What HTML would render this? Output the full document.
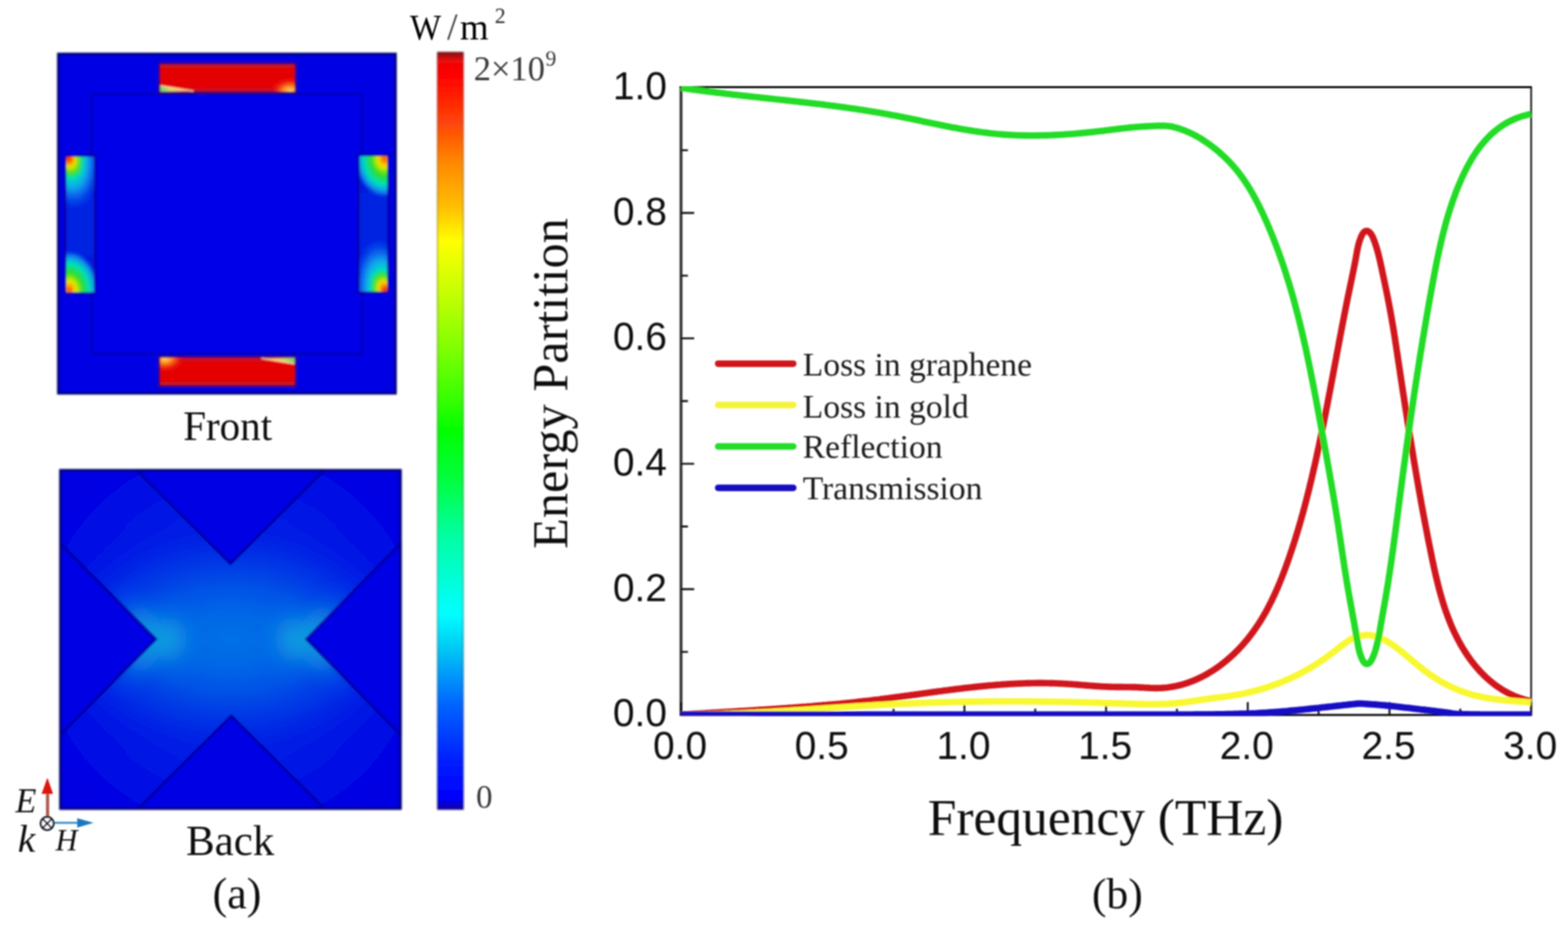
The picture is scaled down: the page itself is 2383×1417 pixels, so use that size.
<!DOCTYPE html>
<html lang="en"><head><meta charset="utf-8"><title>Energy partition figure</title>
<style>html,body{margin:0;padding:0;background:#fff;}body{width:2383px;height:1417px;overflow:hidden;}svg{display:block;}text{font-family:"Liberation Serif",serif;fill:#111;}.sans{font-family:"Liberation Sans",sans-serif;fill:#0a0a0a;}.thin{fill:#2e2e2e;}</style>
</head><body>
<svg width="2383" height="1417" viewBox="0 0 2383 1417">
<defs>
<filter id="soft" x="-5%" y="-5%" width="110%" height="110%"><feGaussianBlur stdDeviation="1.1"/></filter>
<filter id="soft2" x="-5%" y="-5%" width="110%" height="110%"><feGaussianBlur stdDeviation="2.2"/></filter>
<filter id="soft30" x="-30%" y="-30%" width="160%" height="160%"><feGaussianBlur stdDeviation="28"/></filter>
<filter id="soft9" x="-30%" y="-30%" width="160%" height="160%"><feGaussianBlur stdDeviation="13"/></filter>
<filter id="soft6" x="-20%" y="-20%" width="140%" height="140%"><feGaussianBlur stdDeviation="9"/></filter>
<linearGradient id="jet" x1="0" y1="0" x2="0" y2="1"><stop offset="0" stop-color="#8c0a14"/><stop offset="0.004" stop-color="#a50c14"/><stop offset="0.012" stop-color="#f00808"/><stop offset="0.03" stop-color="#ff0000"/><stop offset="0.094" stop-color="#ff4608"/><stop offset="0.149" stop-color="#ff8c00"/><stop offset="0.204" stop-color="#ffbe00"/><stop offset="0.25" stop-color="#ffff00"/><stop offset="0.315" stop-color="#c8ff00"/><stop offset="0.389" stop-color="#82ff00"/><stop offset="0.462" stop-color="#32ff00"/><stop offset="0.5" stop-color="#00ff00"/><stop offset="0.562" stop-color="#00ff3c"/><stop offset="0.637" stop-color="#00ffa0"/><stop offset="0.712" stop-color="#00ffe6"/><stop offset="0.742" stop-color="#00ffff"/><stop offset="0.787" stop-color="#00c8f5"/><stop offset="0.862" stop-color="#0064ff"/><stop offset="0.936" stop-color="#001eff"/><stop offset="0.985" stop-color="#0000ff"/><stop offset="0.995" stop-color="#0a00c0"/><stop offset="1" stop-color="#1400a0"/></linearGradient>
<radialGradient id="hotAo" gradientUnits="userSpaceOnUse" cx="0" cy="0" r="1" gradientTransform="translate(102 232) rotate(-12) scale(50 92)"><stop offset="0" stop-color="#00e0c0"/><stop offset="0.45" stop-color="#00d8d0"/><stop offset="0.62" stop-color="#10a8f0" stop-opacity="0.9"/><stop offset="0.82" stop-color="#0860f0" stop-opacity="0.55"/><stop offset="1" stop-color="#0428e8" stop-opacity="0"/></radialGradient>
<radialGradient id="hotAi" gradientUnits="userSpaceOnUse" cx="0" cy="0" r="1" gradientTransform="translate(103 238) rotate(-20) scale(24 38)"><stop offset="0" stop-color="#d81000"/><stop offset="0.22" stop-color="#ff5800"/><stop offset="0.42" stop-color="#f4e400"/><stop offset="0.68" stop-color="#40e020"/><stop offset="0.88" stop-color="#10e090" stop-opacity="0.7"/><stop offset="1" stop-color="#00e0c0" stop-opacity="0"/></radialGradient>
<radialGradient id="hotB" gradientUnits="userSpaceOnUse" cx="0" cy="0" r="1" gradientTransform="translate(105 441) scale(46 60)"><stop offset="0" stop-color="#f03800"/><stop offset="0.1" stop-color="#ff9000"/><stop offset="0.22" stop-color="#f0e800"/><stop offset="0.42" stop-color="#30e020"/><stop offset="0.7" stop-color="#00dcc8"/><stop offset="0.86" stop-color="#10a0f0" stop-opacity="0.8"/><stop offset="1" stop-color="#0850f0" stop-opacity="0"/></radialGradient>
<radialGradient id="xglow" gradientUnits="userSpaceOnUse" cx="0" cy="0" r="1" gradientTransform="translate(351 972) scale(330 200)"><stop offset="0" stop-color="#0070e6"/><stop offset="0.2" stop-color="#0068e6"/><stop offset="0.42" stop-color="#0050e6"/><stop offset="0.62" stop-color="#0034e6" stop-opacity="0.85"/><stop offset="0.8" stop-color="#001ce4" stop-opacity="0.5"/><stop offset="1" stop-color="#0008e2" stop-opacity="0"/></radialGradient>
<radialGradient id="cy1" gradientUnits="userSpaceOnUse" cx="0" cy="0" r="1" gradientTransform="translate(258 972) scale(60 80)"><stop offset="0" stop-color="#14a0e0" stop-opacity="0.8"/><stop offset="0.2" stop-color="#129ce0" stop-opacity="0.68"/><stop offset="0.4" stop-color="#1090e2" stop-opacity="0.42"/><stop offset="0.6" stop-color="#0e84e4" stop-opacity="0.2"/><stop offset="0.8" stop-color="#0c78e6" stop-opacity="0.06"/><stop offset="1" stop-color="#0a70e6" stop-opacity="0"/></radialGradient>
<radialGradient id="cy2" gradientUnits="userSpaceOnUse" cx="0" cy="0" r="1" gradientTransform="translate(444 972) scale(60 80)"><stop offset="0" stop-color="#14a0e0" stop-opacity="0.8"/><stop offset="0.2" stop-color="#129ce0" stop-opacity="0.68"/><stop offset="0.4" stop-color="#1090e2" stop-opacity="0.42"/><stop offset="0.6" stop-color="#0e84e4" stop-opacity="0.2"/><stop offset="0.8" stop-color="#0c78e6" stop-opacity="0.06"/><stop offset="1" stop-color="#0a70e6" stop-opacity="0"/></radialGradient>
<radialGradient id="chevL" gradientUnits="userSpaceOnUse" cx="236.9" cy="971.7" r="100"><stop offset="0" stop-color="#14a2e0" stop-opacity="0.95"/><stop offset="0.3" stop-color="#129ce0" stop-opacity="0.85"/><stop offset="0.55" stop-color="#0e88e2" stop-opacity="0.5"/><stop offset="0.8" stop-color="#0a70e6" stop-opacity="0.15"/><stop offset="1" stop-color="#0860e6" stop-opacity="0"/></radialGradient>
<radialGradient id="chevR" gradientUnits="userSpaceOnUse" cx="465.8" cy="971.7" r="100"><stop offset="0" stop-color="#14a2e0" stop-opacity="0.95"/><stop offset="0.3" stop-color="#129ce0" stop-opacity="0.85"/><stop offset="0.55" stop-color="#0e88e2" stop-opacity="0.5"/><stop offset="0.8" stop-color="#0a70e6" stop-opacity="0.15"/><stop offset="1" stop-color="#0860e6" stop-opacity="0"/></radialGradient>
<radialGradient id="xarm" gradientUnits="userSpaceOnUse" cx="351" cy="972" r="330"><stop offset="0" stop-color="#0048e6"/><stop offset="0.35" stop-color="#0034e6"/><stop offset="0.6" stop-color="#001ce5"/><stop offset="0.8" stop-color="#000ae4"/><stop offset="1" stop-color="#0000e3"/></radialGradient>
<radialGradient id="cornY" gradientUnits="userSpaceOnUse" cx="441" cy="139" r="30" gradientTransform="translate(441 139) scale(1 0.7) translate(-441 -139)"><stop offset="0" stop-color="#ffe070"/><stop offset="0.35" stop-color="#ff9020"/><stop offset="0.7" stop-color="#f03010" stop-opacity="0.8"/><stop offset="1" stop-color="#e60505" stop-opacity="0"/></radialGradient>
<linearGradient id="wedge" x1="0" y1="0" x2="1" y2="0"><stop offset="0" stop-color="#70d080"/><stop offset="0.3" stop-color="#c8d870"/><stop offset="0.6" stop-color="#ffc060"/><stop offset="1" stop-color="#ff7040"/></linearGradient>
<clipPath id="clipL"><rect x="99" y="236.5" width="46" height="210"/></clipPath>
<clipPath id="clipBack"><rect x="90.2" y="713.5" width="520" height="517.5"/></clipPath>
<clipPath id="clipPlot"><rect x="1033.5" y="131" width="1295" height="957.4"/></clipPath>
<filter id="blurAll" filterUnits="userSpaceOnUse" x="0" y="0" width="2383" height="1417"><feGaussianBlur stdDeviation="0.85"/></filter>
</defs>
<rect x="0" y="0" width="2383" height="1417" fill="#ffffff"/>
<g id="figure" filter="url(#blurAll)">
<g id="front" filter="url(#soft)">
<rect x="87" y="80.5" width="515.7" height="519" fill="#0000e4"/>
<rect x="88.6" y="82.1" width="512.5" height="515.8" fill="none" stroke="#000070" stroke-width="3.8"/>
<rect x="139.5" y="143.5" width="410.5" height="394" fill="#0000e8" stroke="#0000b0" stroke-width="3"/>
<g id="patch">
<rect x="98.5" y="236" width="47" height="210.5" fill="#0418dc" stroke="#0000b4" stroke-width="2"/>
<g clip-path="url(#clipL)" filter="url(#soft2)"><rect x="99" y="300" width="46" height="90" fill="#0428e4" opacity="0.6"/><rect x="80" y="370" width="90" height="100" fill="url(#hotB)"/><rect x="80" y="215" width="90" height="160" fill="url(#hotAo)"/><rect x="80" y="215" width="90" height="100" fill="url(#hotAi)"/></g><rect x="99.5" y="237" width="45" height="208.5" fill="none" stroke="#0c009c" stroke-width="2.6"/>
</g>
<use href="#patch" transform="rotate(180 344.7 340.8)"/>
<g id="bar">
<rect x="240.2" y="94.6" width="211" height="47.8" fill="#34006e"/>
<rect x="243.6" y="97.8" width="204.1" height="41.4" fill="#e40606"/>
<rect x="243.6" y="97.8" width="204.1" height="5" fill="#c41820"/>
<rect x="243.6" y="134" width="204.1" height="5.2" fill="#c80c24"/>
<path d="M243.6 131.2 L262 133.4 L292 138.4 L243.6 139.2 Z" fill="url(#wedge)"/>
<path d="M243.6 130.4 L294 138.6" stroke="#ffe8b0" stroke-width="1.5" fill="none"/>
<rect x="405" y="118" width="42.7" height="21.2" fill="url(#cornY)"/>
</g>
<use href="#bar" transform="rotate(180 345.65 341.7)"/>
</g>
<g id="back" filter="url(#soft)">
<rect x="90.2" y="713.5" width="520" height="517.5" fill="#0000e2"/>
<g clip-path="url(#clipBack)">
<rect x="90.2" y="713.5" width="520" height="517.5" fill="url(#xarm)"/>
<rect x="90.2" y="713.5" width="520" height="517.5" fill="url(#xglow)"/>
<g filter="url(#soft9)"><path d="M156.9 891.7 L236.9 971.7 L156.9 1051.7" stroke="url(#chevL)" stroke-width="46" stroke-linejoin="miter" fill="none"/><path d="M545.8 891.7 L465.8 971.7 L545.8 1051.7" stroke="url(#chevR)" stroke-width="46" stroke-linejoin="miter" fill="none"/></g>
<g filter="url(#soft6)"><ellipse cx="258" cy="972" rx="60" ry="80" fill="url(#cy1)"/><ellipse cx="444" cy="972" rx="60" ry="80" fill="url(#cy2)"/></g>
<path d="M206.5 713.5 L350.2 857.2 L494 713.5 Z" fill="#0000e4" stroke="#0000a4" stroke-width="4" stroke-linejoin="miter"/>
<path d="M208.5 1231 L351.4 1088.1 L494.3 1231 Z" fill="#0000e4" stroke="#0000a4" stroke-width="4" stroke-linejoin="miter"/>
<path d="M90.2 825 L236.9 971.7 L90.2 1118.4 Z" fill="#0000e4" stroke="#0000a4" stroke-width="4" stroke-linejoin="miter"/>
<path d="M610.2 825 L465.8 971.7 L610.2 1118.4 Z" fill="#0000e4" stroke="#0000a4" stroke-width="4" stroke-linejoin="miter"/>
</g>
<rect x="91.8" y="715.1" width="516.8" height="514.3" fill="none" stroke="#000070" stroke-width="3.8"/>
</g>
<g id="colorbar" filter="url(#soft)">
<rect x="664.5" y="79" width="40" height="1152" fill="url(#jet)"/>
<rect x="665" y="79.5" width="39" height="1151" fill="none" stroke="#202020" stroke-opacity="0.45" stroke-width="1.6"/>
</g>
<g class="thin">
<text y="60.4" font-size="56" style="fill:#000"><tspan x="623" font-size="55" textLength="47.5" lengthAdjust="spacingAndGlyphs">W</tspan><tspan x="679.5" font-size="57" style="fill:#3a3a3a">/</tspan><tspan x="699">m</tspan><tspan x="752" y="34.6" font-size="33" style="fill:#2a2a2a">2</tspan></text>
<text x="720" y="121.5" font-size="52.4" style="fill:#3a3a3a">2×10<tspan x="829" y="99.5" font-size="33">9</tspan></text>
<text x="723.5" y="1228.4" font-size="50" style="fill:#3a3a3a">0</text>
</g>
<text x="278.4" y="668.7" font-size="62.4">Front</text>
<text x="282.8" y="1299.9" font-size="65.3">Back</text>
<text x="323" y="1380.6" font-size="67">(a)</text>
<g id="triad">
<line x1="72.3" y1="1242" x2="72.3" y2="1204" stroke="#b05a50" stroke-width="5"/>
<path d="M72 1182.6 L80.7 1207 L63.2 1207 Z" fill="#dc1408"/>
<line x1="82" y1="1250.9" x2="120" y2="1250.9" stroke="#3a8cc0" stroke-width="3"/>
<path d="M142.2 1251 L117.4 1244 L117.4 1258.2 Z" fill="#1e78be"/>
<circle cx="71.7" cy="1252" r="9.8" fill="#fff" stroke="#1c2430" stroke-width="3.2"/>
<path d="M65 1245.3 L78.4 1258.7 M78.4 1245.3 L65 1258.7" stroke="#1c2430" stroke-width="2.8" fill="none"/>
<text x="23.5" y="1234.5" font-size="52" font-style="italic">E</text>
<text x="27" y="1294.9" font-size="60" font-style="italic">k</text>
<text x="84.5" y="1292.6" font-size="46" font-style="italic">H</text>
</g>
<g id="plot">
<path d="M1035.0 1088.0 L1035.0 133.0" stroke="#383838" stroke-width="4.4" fill="none"/>
<path d="M1032.8 132.6 L2328.2 132.6" stroke="#050505" stroke-width="3" fill="none"/>
<path d="M2327.0 133.0 L2327.0 1088.0" stroke="#161616" stroke-width="2.6" fill="none"/>
<path d="M1033.2 1086.9 L2328.2 1086.9" stroke="#050505" stroke-width="3" fill="none"/>
<path d="M1035.0 1086.5 h20 M1035.0 991.1 h10.5 M1035.0 895.8 h20 M1035.0 800.5 h10.5 M1035.0 705.1 h20 M1035.0 609.8 h10.5 M1035.0 514.4 h20 M1035.0 419.1 h10.5 M1035.0 323.7 h20 M1035.0 228.4 h10.5 M1035.0 133.0 h20 M1035.0 1086.5 v-19 M1142.7 1086.5 v-9 M1250.3 1086.5 v-19 M1358.0 1086.5 v-9 M1465.7 1086.5 v-19 M1573.3 1086.5 v-9 M1681.0 1086.5 v-19 M1788.7 1086.5 v-9 M1896.3 1086.5 v-19 M2004.0 1086.5 v-9 M2111.7 1086.5 v-19 M2219.3 1086.5 v-9 M2327.0 1086.5 v-19" stroke="#101010" stroke-width="2.9" fill="none"/>
<text class="sans" x="1013.5" y="1104.3" font-size="59" text-anchor="end">0.0</text>
<text class="sans" x="1013.5" y="913.6" font-size="59" text-anchor="end">0.2</text>
<text class="sans" x="1013.5" y="722.9" font-size="59" text-anchor="end">0.4</text>
<text class="sans" x="1013.5" y="532.2" font-size="59" text-anchor="end">0.6</text>
<text class="sans" x="1013.5" y="341.5" font-size="59" text-anchor="end">0.8</text>
<text class="sans" x="1013.5" y="150.8" font-size="59" text-anchor="end">1.0</text>
<text class="sans" x="1033.5" y="1154" font-size="59" text-anchor="middle">0.0</text>
<text class="sans" x="1248.8" y="1154" font-size="59" text-anchor="middle">0.5</text>
<text class="sans" x="1464.2" y="1154" font-size="59" text-anchor="middle">1.0</text>
<text class="sans" x="1679.5" y="1154" font-size="59" text-anchor="middle">1.5</text>
<text class="sans" x="1894.8" y="1154" font-size="59" text-anchor="middle">2.0</text>
<text class="sans" x="2110.2" y="1154" font-size="59" text-anchor="middle">2.5</text>
<text class="sans" x="2325.5" y="1154" font-size="59" text-anchor="middle">3.0</text>
<g clip-path="url(#clipPlot)" fill="none" stroke-width="9.9" stroke-linejoin="round" stroke-linecap="butt">
<path d="M1035.0,1086.5 L1037.5,1086.3 L1040.0,1086.2 L1042.5,1086.0 L1045.0,1085.9 L1047.5,1085.7 L1050.0,1085.6 L1052.5,1085.4 L1055.0,1085.3 L1057.5,1085.1 L1060.0,1085.0 L1062.5,1084.9 L1065.0,1084.7 L1067.5,1084.6 L1070.0,1084.4 L1072.5,1084.3 L1075.0,1084.1 L1077.5,1084.0 L1080.0,1083.8 L1082.5,1083.7 L1085.0,1083.5 L1087.5,1083.4 L1090.0,1083.2 L1092.5,1083.1 L1095.0,1082.9 L1097.5,1082.8 L1100.0,1082.7 L1102.5,1082.5 L1105.0,1082.4 L1107.4,1082.2 L1109.9,1082.1 L1112.4,1081.9 L1114.9,1081.8 L1117.4,1081.6 L1119.9,1081.5 L1122.4,1081.3 L1124.9,1081.2 L1127.4,1081.0 L1129.9,1080.9 L1132.4,1080.7 L1134.9,1080.6 L1137.4,1080.4 L1139.9,1080.3 L1142.4,1080.1 L1144.9,1080.0 L1147.4,1079.8 L1149.9,1079.7 L1152.4,1079.5 L1154.9,1079.3 L1157.4,1079.2 L1159.9,1079.0 L1162.4,1078.9 L1164.9,1078.7 L1167.4,1078.5 L1169.9,1078.4 L1172.4,1078.2 L1174.9,1078.0 L1177.4,1077.9 L1179.9,1077.7 L1182.4,1077.5 L1184.9,1077.4 L1187.3,1077.2 L1189.8,1077.0 L1192.3,1076.9 L1194.8,1076.7 L1197.3,1076.5 L1199.8,1076.3 L1202.3,1076.1 L1204.8,1076.0 L1207.3,1075.8 L1209.8,1075.6 L1212.3,1075.4 L1214.8,1075.2 L1217.3,1075.0 L1219.8,1074.8 L1222.3,1074.6 L1224.8,1074.5 L1227.3,1074.3 L1229.8,1074.1 L1232.2,1073.9 L1234.7,1073.7 L1237.2,1073.4 L1239.7,1073.2 L1242.2,1073.0 L1244.7,1072.8 L1247.2,1072.6 L1249.7,1072.4 L1252.2,1072.2 L1254.7,1072.0 L1257.2,1071.7 L1259.7,1071.5 L1262.1,1071.3 L1264.6,1071.1 L1267.1,1070.8 L1269.6,1070.6 L1272.1,1070.4 L1274.6,1070.1 L1277.1,1069.9 L1279.6,1069.6 L1282.1,1069.4 L1284.6,1069.1 L1287.0,1068.9 L1289.5,1068.6 L1292.0,1068.4 L1294.5,1068.1 L1297.0,1067.9 L1299.5,1067.6 L1302.0,1067.3 L1304.5,1067.0 L1306.9,1066.8 L1309.4,1066.5 L1311.9,1066.2 L1314.4,1065.9 L1316.9,1065.6 L1319.4,1065.4 L1321.9,1065.1 L1324.3,1064.8 L1326.8,1064.5 L1329.3,1064.2 L1331.8,1063.9 L1334.3,1063.6 L1336.8,1063.3 L1339.3,1062.9 L1341.7,1062.6 L1344.2,1062.3 L1346.7,1062.0 L1349.2,1061.7 L1351.7,1061.3 L1354.2,1061.0 L1356.6,1060.7 L1359.1,1060.4 L1361.6,1060.0 L1364.1,1059.7 L1366.6,1059.4 L1369.1,1059.0 L1371.5,1058.7 L1374.0,1058.3 L1376.5,1058.0 L1379.0,1057.7 L1381.5,1057.3 L1383.9,1057.0 L1386.4,1056.6 L1388.9,1056.3 L1391.4,1056.0 L1393.9,1055.6 L1396.3,1055.3 L1398.8,1054.9 L1401.3,1054.6 L1403.8,1054.2 L1406.3,1053.9 L1408.8,1053.6 L1411.2,1053.2 L1413.7,1052.9 L1416.2,1052.5 L1418.7,1052.2 L1421.2,1051.9 L1423.6,1051.5 L1426.1,1051.2 L1428.6,1050.9 L1431.1,1050.6 L1433.6,1050.2 L1436.0,1049.9 L1438.5,1049.6 L1441.0,1049.3 L1443.5,1048.9 L1446.0,1048.6 L1448.5,1048.3 L1450.9,1048.0 L1453.4,1047.7 L1455.9,1047.4 L1458.4,1047.1 L1460.9,1046.8 L1463.3,1046.5 L1465.8,1046.2 L1468.3,1045.9 L1470.8,1045.6 L1473.3,1045.3 L1475.8,1045.1 L1478.2,1044.8 L1480.7,1044.5 L1483.2,1044.3 L1485.7,1044.0 L1488.2,1043.7 L1490.7,1043.5 L1493.2,1043.2 L1495.6,1043.0 L1498.1,1042.8 L1500.6,1042.5 L1503.1,1042.3 L1505.6,1042.1 L1508.1,1041.9 L1510.6,1041.7 L1513.1,1041.5 L1515.5,1041.3 L1518.0,1041.1 L1520.5,1040.9 L1523.0,1040.7 L1525.5,1040.5 L1528.0,1040.4 L1530.5,1040.2 L1533.0,1040.0 L1535.5,1039.9 L1537.9,1039.7 L1540.4,1039.6 L1542.9,1039.5 L1545.4,1039.4 L1547.9,1039.3 L1550.4,1039.2 L1552.9,1039.1 L1555.4,1039.0 L1557.9,1038.9 L1560.4,1038.8 L1562.9,1038.7 L1565.4,1038.7 L1567.9,1038.6 L1570.4,1038.6 L1572.9,1038.6 L1575.4,1038.5 L1577.9,1038.5 L1580.4,1038.5 L1582.9,1038.5 L1585.4,1038.5 L1587.9,1038.6 L1590.4,1038.6 L1592.9,1038.6 L1595.4,1038.7 L1597.9,1038.7 L1600.4,1038.8 L1602.9,1038.9 L1605.4,1039.0 L1607.9,1039.1 L1610.4,1039.2 L1612.9,1039.3 L1615.4,1039.4 L1617.9,1039.6 L1620.4,1039.7 L1622.9,1039.9 L1625.5,1040.1 L1628.0,1040.2 L1630.5,1040.4 L1633.0,1040.6 L1635.5,1040.8 L1638.0,1041.0 L1640.5,1041.2 L1643.0,1041.4 L1645.5,1041.6 L1648.0,1041.8 L1650.5,1042.0 L1653.1,1042.2 L1655.6,1042.4 L1658.1,1042.6 L1660.6,1042.8 L1663.1,1043.0 L1665.6,1043.2 L1668.1,1043.3 L1670.6,1043.5 L1673.1,1043.6 L1675.6,1043.8 L1678.1,1043.9 L1680.6,1044.0 L1683.1,1044.1 L1685.6,1044.2 L1688.1,1044.3 L1690.6,1044.4 L1693.0,1044.4 L1695.5,1044.5 L1698.0,1044.5 L1700.5,1044.5 L1703.0,1044.5 L1705.5,1044.5 L1708.0,1044.6 L1710.4,1044.6 L1712.9,1044.6 L1715.4,1044.6 L1717.9,1044.6 L1720.4,1044.7 L1722.9,1044.8 L1725.4,1044.8 L1727.9,1044.9 L1730.4,1045.0 L1732.9,1045.2 L1735.5,1045.3 L1738.0,1045.4 L1740.5,1045.6 L1743.0,1045.7 L1745.5,1045.8 L1748.1,1046.0 L1750.6,1046.1 L1753.1,1046.1 L1755.6,1046.2 L1758.1,1046.2 L1760.6,1046.1 L1763.1,1046.1 L1765.6,1046.0 L1768.1,1045.8 L1770.6,1045.6 L1773.0,1045.4 L1775.5,1045.1 L1778.0,1044.7 L1780.4,1044.4 L1782.8,1043.9 L1785.3,1043.5 L1787.7,1043.0 L1790.1,1042.4 L1792.5,1041.9 L1794.9,1041.2 L1797.3,1040.6 L1799.7,1039.9 L1802.0,1039.1 L1804.4,1038.4 L1806.7,1037.6 L1809.0,1036.7 L1811.4,1035.8 L1813.7,1034.9 L1816.0,1033.9 L1818.2,1033.0 L1820.5,1031.9 L1822.8,1030.9 L1825.0,1029.8 L1827.3,1028.7 L1829.5,1027.5 L1831.7,1026.3 L1833.9,1025.1 L1836.0,1023.9 L1838.2,1022.6 L1840.3,1021.3 L1842.5,1019.9 L1844.6,1018.6 L1846.7,1017.2 L1848.8,1015.8 L1850.8,1014.3 L1852.9,1012.9 L1854.9,1011.4 L1856.9,1009.8 L1858.9,1008.3 L1860.9,1006.7 L1862.9,1005.1 L1864.8,1003.5 L1866.7,1001.9 L1868.6,1000.2 L1870.5,998.5 L1872.4,996.8 L1874.3,995.1 L1876.1,993.4 L1877.9,991.6 L1879.7,989.8 L1881.5,988.1 L1883.2,986.2 L1884.9,984.4 L1886.6,982.6 L1888.3,980.7 L1890.0,978.8 L1891.6,976.9 L1893.2,975.0 L1894.8,973.1 L1896.4,971.2 L1898.0,969.2 L1899.5,967.2 L1901.0,965.3 L1902.5,963.3 L1904.0,961.3 L1905.5,959.2 L1906.9,957.2 L1908.3,955.2 L1909.7,953.1 L1911.1,951.0 L1912.5,949.0 L1913.8,946.9 L1915.2,944.8 L1916.5,942.7 L1917.8,940.5 L1919.0,938.4 L1920.3,936.3 L1921.5,934.1 L1922.8,931.9 L1924.0,929.8 L1925.2,927.6 L1926.4,925.4 L1927.5,923.2 L1928.7,921.0 L1929.8,918.7 L1931.0,916.5 L1932.1,914.3 L1933.2,912.0 L1934.3,909.8 L1935.3,907.5 L1936.4,905.3 L1937.4,903.0 L1938.5,900.7 L1939.5,898.4 L1940.5,896.1 L1941.5,893.8 L1942.5,891.5 L1943.5,889.2 L1944.4,886.9 L1945.4,884.6 L1946.3,882.3 L1947.2,880.0 L1948.2,877.6 L1949.1,875.3 L1950.0,873.0 L1950.9,870.6 L1951.8,868.3 L1952.7,865.9 L1953.5,863.6 L1954.4,861.2 L1955.2,858.9 L1956.1,856.5 L1956.9,854.1 L1957.8,851.8 L1958.6,849.4 L1959.4,847.1 L1960.2,844.7 L1961.0,842.3 L1961.8,840.0 L1962.6,837.6 L1963.4,835.2 L1964.2,832.8 L1965.0,830.5 L1965.7,828.1 L1966.5,825.7 L1967.3,823.3 L1968.0,821.0 L1968.8,818.6 L1969.5,816.2 L1970.2,813.8 L1971.0,811.4 L1971.7,809.0 L1972.4,806.6 L1973.1,804.3 L1973.8,801.9 L1974.5,799.5 L1975.2,797.1 L1975.9,794.7 L1976.6,792.3 L1977.3,789.9 L1978.0,787.5 L1978.6,785.1 L1979.3,782.7 L1980.0,780.3 L1980.6,777.9 L1981.3,775.5 L1981.9,773.1 L1982.6,770.7 L1983.2,768.3 L1983.8,765.8 L1984.5,763.4 L1985.1,761.0 L1985.7,758.6 L1986.3,756.2 L1986.9,753.8 L1987.5,751.4 L1988.2,748.9 L1988.8,746.5 L1989.4,744.1 L1990.0,741.7 L1990.5,739.2 L1991.1,736.8 L1991.7,734.4 L1992.3,732.0 L1992.9,729.5 L1993.5,727.1 L1994.0,724.7 L1994.6,722.2 L1995.2,719.8 L1995.7,717.3 L1996.3,714.9 L1996.8,712.5 L1997.4,710.0 L1998.0,707.6 L1998.5,705.1 L1999.1,702.7 L1999.6,700.3 L2000.1,697.8 L2000.7,695.4 L2001.2,692.9 L2001.7,690.5 L2002.3,688.0 L2002.8,685.6 L2003.3,683.1 L2003.9,680.6 L2004.4,678.2 L2004.9,675.7 L2005.4,673.3 L2005.9,670.8 L2006.5,668.4 L2007.0,665.9 L2007.5,663.4 L2008.0,661.0 L2008.5,658.5 L2009.0,656.1 L2009.5,653.6 L2010.0,651.1 L2010.5,648.7 L2011.0,646.2 L2011.5,643.7 L2012.0,641.3 L2012.5,638.8 L2013.0,636.3 L2013.5,633.9 L2014.0,631.4 L2014.5,628.9 L2014.9,626.5 L2015.4,624.0 L2015.9,621.5 L2016.4,619.1 L2016.9,616.6 L2017.4,614.1 L2017.8,611.7 L2018.3,609.2 L2018.8,606.7 L2019.3,604.3 L2019.7,601.8 L2020.2,599.3 L2020.7,596.9 L2021.2,594.4 L2021.6,591.9 L2022.1,589.5 L2022.6,587.0 L2023.0,584.5 L2023.5,582.1 L2024.0,579.6 L2024.4,577.1 L2024.9,574.7 L2025.4,572.2 L2025.8,569.7 L2026.3,567.3 L2026.8,564.8 L2027.2,562.4 L2027.7,559.9 L2028.1,557.4 L2028.6,555.0 L2029.1,552.5 L2029.5,550.0 L2030.0,547.6 L2030.5,545.1 L2030.9,542.7 L2031.4,540.2 L2031.8,537.8 L2032.3,535.3 L2032.8,532.9 L2033.2,530.4 L2033.7,527.9 L2034.2,525.5 L2034.6,523.0 L2035.1,520.6 L2035.5,518.1 L2036.0,515.7 L2036.5,513.3 L2036.9,510.8 L2037.4,508.4 L2037.9,505.9 L2038.3,503.5 L2038.8,501.0 L2039.3,498.6 L2039.7,496.2 L2040.2,493.7 L2040.7,491.3 L2041.1,488.9 L2041.6,486.4 L2042.1,484.0 L2042.6,481.6 L2043.0,479.2 L2043.5,476.7 L2044.0,474.3 L2044.5,471.9 L2044.9,469.5 L2045.4,467.0 L2045.9,464.6 L2046.4,462.2 L2046.9,459.8 L2047.3,457.4 L2047.8,455.0 L2048.3,452.6 L2048.8,450.2 L2049.3,447.8 L2049.8,445.4 L2050.3,443.0 L2050.8,440.6 L2051.3,438.2 L2051.8,435.8 L2052.3,433.4 L2052.8,431.0 L2053.3,428.6 L2053.8,426.2 L2054.3,423.8 L2054.8,421.5 L2055.3,419.1 L2055.8,416.6 L2056.3,414.2 L2056.8,411.8 L2057.3,409.3 L2057.8,406.8 L2058.3,404.3 L2058.8,401.7 L2059.3,399.1 L2059.8,396.5 L2060.3,393.8 L2060.8,391.1 L2061.3,388.3 L2061.8,385.5 L2062.3,382.7 L2062.8,379.9 L2063.4,377.2 L2063.9,374.6 L2064.6,372.1 L2065.2,369.6 L2065.9,367.3 L2066.7,365.1 L2067.4,363.0 L2068.2,360.9 L2069.1,358.9 L2070.1,356.8 L2071.3,354.9 L2072.6,353.1 L2074.3,351.8 L2076.2,351.1 L2078.2,351.2 L2080.1,352.1 L2081.8,353.5 L2083.3,355.3 L2084.6,357.2 L2085.7,359.2 L2086.7,361.4 L2087.6,363.6 L2088.5,365.9 L2089.3,368.3 L2090.2,370.7 L2091.0,373.2 L2091.8,375.8 L2092.6,378.3 L2093.3,380.9 L2094.0,383.4 L2094.7,385.9 L2095.3,388.4 L2095.9,390.9 L2096.5,393.4 L2097.1,395.9 L2097.7,398.3 L2098.2,400.7 L2098.7,403.2 L2099.3,405.6 L2099.8,408.0 L2100.3,410.4 L2100.8,412.9 L2101.3,415.3 L2101.8,417.7 L2102.3,420.1 L2102.9,422.6 L2103.4,425.0 L2103.9,427.4 L2104.4,429.9 L2104.9,432.3 L2105.4,434.7 L2105.9,437.2 L2106.4,439.6 L2106.9,442.0 L2107.4,444.5 L2107.9,446.9 L2108.4,449.3 L2108.9,451.8 L2109.4,454.2 L2109.8,456.7 L2110.3,459.1 L2110.8,461.5 L2111.3,464.0 L2111.7,466.4 L2112.2,468.9 L2112.6,471.3 L2113.1,473.8 L2113.5,476.3 L2114.0,478.7 L2114.4,481.2 L2114.9,483.6 L2115.3,486.1 L2115.7,488.6 L2116.1,491.0 L2116.6,493.5 L2117.0,496.0 L2117.4,498.4 L2117.8,500.9 L2118.2,503.4 L2118.6,505.9 L2119.0,508.3 L2119.4,510.8 L2119.8,513.3 L2120.2,515.8 L2120.5,518.3 L2120.9,520.7 L2121.3,523.2 L2121.7,525.7 L2122.1,528.2 L2122.4,530.7 L2122.8,533.2 L2123.2,535.6 L2123.6,538.1 L2123.9,540.6 L2124.3,543.1 L2124.7,545.6 L2125.0,548.1 L2125.4,550.5 L2125.8,553.0 L2126.2,555.5 L2126.5,558.0 L2126.9,560.5 L2127.3,562.9 L2127.6,565.4 L2128.0,567.9 L2128.4,570.4 L2128.8,572.9 L2129.1,575.3 L2129.5,577.8 L2129.9,580.3 L2130.3,582.8 L2130.6,585.2 L2131.0,587.7 L2131.4,590.2 L2131.8,592.7 L2132.1,595.1 L2132.5,597.6 L2132.9,600.1 L2133.3,602.6 L2133.7,605.0 L2134.0,607.5 L2134.4,610.0 L2134.8,612.4 L2135.2,614.9 L2135.6,617.4 L2135.9,619.9 L2136.3,622.3 L2136.7,624.8 L2137.1,627.3 L2137.5,629.7 L2137.9,632.2 L2138.3,634.7 L2138.6,637.1 L2139.0,639.6 L2139.4,642.1 L2139.8,644.5 L2140.2,647.0 L2140.6,649.5 L2141.0,651.9 L2141.4,654.4 L2141.8,656.9 L2142.2,659.3 L2142.6,661.8 L2143.0,664.3 L2143.4,666.7 L2143.8,669.2 L2144.2,671.6 L2144.6,674.1 L2145.0,676.6 L2145.4,679.0 L2145.8,681.5 L2146.2,684.0 L2146.6,686.4 L2147.0,688.9 L2147.4,691.4 L2147.8,693.8 L2148.2,696.3 L2148.6,698.7 L2149.0,701.2 L2149.4,703.7 L2149.9,706.1 L2150.3,708.6 L2150.7,711.0 L2151.1,713.5 L2151.5,716.0 L2151.9,718.4 L2152.4,720.9 L2152.8,723.3 L2153.2,725.8 L2153.6,728.3 L2154.1,730.7 L2154.5,733.2 L2154.9,735.7 L2155.4,738.1 L2155.8,740.6 L2156.2,743.0 L2156.7,745.5 L2157.1,748.0 L2157.5,750.4 L2158.0,752.9 L2158.4,755.3 L2158.9,757.8 L2159.3,760.3 L2159.7,762.7 L2160.2,765.2 L2160.6,767.6 L2161.1,770.1 L2161.5,772.6 L2162.0,775.0 L2162.4,777.5 L2162.9,779.9 L2163.4,782.4 L2163.8,784.9 L2164.3,787.3 L2164.7,789.8 L2165.2,792.2 L2165.7,794.7 L2166.1,797.2 L2166.6,799.6 L2167.1,802.1 L2167.6,804.5 L2168.0,807.0 L2168.5,809.5 L2169.0,811.9 L2169.5,814.4 L2169.9,816.9 L2170.4,819.3 L2170.9,821.8 L2171.4,824.2 L2171.9,826.7 L2172.4,829.2 L2172.9,831.6 L2173.4,834.1 L2173.9,836.6 L2174.4,839.0 L2174.9,841.5 L2175.4,844.0 L2175.9,846.4 L2176.4,848.9 L2176.9,851.3 L2177.4,853.8 L2178.0,856.3 L2178.5,858.7 L2179.0,861.2 L2179.5,863.6 L2180.1,866.1 L2180.6,868.6 L2181.2,871.0 L2181.7,873.5 L2182.3,875.9 L2182.9,878.4 L2183.5,880.8 L2184.1,883.2 L2184.7,885.7 L2185.3,888.1 L2185.9,890.6 L2186.5,893.0 L2187.1,895.4 L2187.8,897.8 L2188.4,900.2 L2189.1,902.7 L2189.8,905.1 L2190.5,907.5 L2191.2,909.9 L2191.9,912.3 L2192.6,914.7 L2193.3,917.0 L2194.1,919.4 L2194.8,921.8 L2195.6,924.2 L2196.4,926.5 L2197.2,928.9 L2198.0,931.2 L2198.9,933.6 L2199.7,935.9 L2200.6,938.3 L2201.5,940.6 L2202.4,942.9 L2203.3,945.2 L2204.2,947.5 L2205.2,949.8 L2206.1,952.1 L2207.1,954.4 L2208.1,956.7 L2209.2,958.9 L2210.2,961.2 L2211.3,963.4 L2212.4,965.7 L2213.5,967.9 L2214.6,970.1 L2215.7,972.3 L2216.9,974.5 L2218.1,976.7 L2219.3,978.9 L2220.5,981.1 L2221.8,983.2 L2223.1,985.4 L2224.4,987.5 L2225.7,989.6 L2227.1,991.7 L2228.4,993.8 L2229.8,995.9 L2231.2,998.0 L2232.7,1000.0 L2234.1,1002.1 L2235.6,1004.1 L2237.1,1006.1 L2238.7,1008.1 L2240.2,1010.0 L2241.8,1012.0 L2243.4,1013.9 L2245.0,1015.8 L2246.7,1017.6 L2248.3,1019.5 L2250.0,1021.3 L2251.7,1023.1 L2253.5,1024.9 L2255.2,1026.7 L2257.0,1028.4 L2258.8,1030.1 L2260.7,1031.8 L2262.5,1033.4 L2264.4,1035.0 L2266.3,1036.6 L2268.2,1038.2 L2270.2,1039.7 L2272.1,1041.2 L2274.1,1042.7 L2276.2,1044.1 L2278.2,1045.5 L2280.3,1046.8 L2282.4,1048.2 L2284.5,1049.5 L2286.6,1050.7 L2288.8,1051.9 L2291.0,1053.1 L2293.2,1054.3 L2295.4,1055.4 L2297.7,1056.4 L2300.0,1057.5 L2302.3,1058.5 L2304.6,1059.4 L2307.0,1060.3 L2309.4,1061.2 L2311.8,1062.0 L2314.2,1062.8 L2316.7,1063.5 L2319.1,1064.2 L2321.6,1064.8 L2324.2,1065.4 L2326.7,1066.0" stroke="#d0141e"/>
<path d="M1035.0,1086.5 L1037.5,1086.5 L1040.0,1086.5 L1042.5,1086.5 L1045.0,1086.5 L1047.5,1086.5 L1050.0,1086.4 L1052.5,1086.4 L1055.0,1086.4 L1057.5,1086.4 L1060.0,1086.3 L1062.5,1086.3 L1065.0,1086.3 L1067.5,1086.2 L1070.1,1086.2 L1072.6,1086.1 L1075.1,1086.1 L1077.6,1086.0 L1080.1,1086.0 L1082.6,1085.9 L1085.1,1085.9 L1087.6,1085.8 L1090.1,1085.7 L1092.6,1085.7 L1095.1,1085.6 L1097.6,1085.5 L1100.1,1085.4 L1102.6,1085.3 L1105.1,1085.3 L1107.6,1085.2 L1110.1,1085.1 L1112.6,1085.0 L1115.1,1084.9 L1117.6,1084.8 L1120.1,1084.7 L1122.6,1084.6 L1125.1,1084.5 L1127.6,1084.4 L1130.1,1084.3 L1132.6,1084.2 L1135.1,1084.1 L1137.6,1083.9 L1140.1,1083.8 L1142.6,1083.7 L1145.1,1083.6 L1147.6,1083.5 L1150.1,1083.3 L1152.6,1083.2 L1155.1,1083.1 L1157.6,1082.9 L1160.1,1082.8 L1162.6,1082.7 L1165.1,1082.5 L1167.6,1082.4 L1170.1,1082.3 L1172.6,1082.1 L1175.1,1082.0 L1177.6,1081.8 L1180.1,1081.7 L1182.6,1081.5 L1185.1,1081.4 L1187.6,1081.2 L1190.1,1081.1 L1192.6,1080.9 L1195.1,1080.8 L1197.6,1080.6 L1200.1,1080.5 L1202.6,1080.3 L1205.1,1080.2 L1207.6,1080.0 L1210.1,1079.9 L1212.6,1079.7 L1215.1,1079.5 L1217.5,1079.4 L1220.0,1079.2 L1222.5,1079.1 L1225.0,1078.9 L1227.5,1078.7 L1230.0,1078.6 L1232.5,1078.4 L1235.0,1078.2 L1237.5,1078.1 L1240.0,1077.9 L1242.5,1077.7 L1245.0,1077.6 L1247.5,1077.4 L1250.0,1077.3 L1252.5,1077.1 L1255.0,1076.9 L1257.5,1076.8 L1260.0,1076.6 L1262.5,1076.4 L1265.0,1076.3 L1267.5,1076.1 L1270.0,1075.9 L1272.5,1075.8 L1275.0,1075.6 L1277.5,1075.4 L1280.0,1075.3 L1282.5,1075.1 L1285.0,1075.0 L1287.5,1074.8 L1290.0,1074.6 L1292.5,1074.5 L1295.0,1074.3 L1297.5,1074.2 L1300.0,1074.0 L1302.5,1073.8 L1305.0,1073.7 L1307.5,1073.5 L1310.0,1073.4 L1312.5,1073.2 L1315.0,1073.1 L1317.5,1072.9 L1320.0,1072.8 L1322.5,1072.6 L1325.0,1072.5 L1327.5,1072.3 L1330.0,1072.2 L1332.5,1072.0 L1335.0,1071.9 L1337.5,1071.7 L1340.0,1071.6 L1342.4,1071.5 L1344.9,1071.3 L1347.4,1071.2 L1349.9,1071.1 L1352.4,1070.9 L1354.9,1070.8 L1357.4,1070.7 L1359.9,1070.5 L1362.4,1070.4 L1364.9,1070.3 L1367.4,1070.2 L1369.9,1070.1 L1372.4,1069.9 L1374.9,1069.8 L1377.4,1069.7 L1379.9,1069.6 L1382.4,1069.5 L1384.9,1069.4 L1387.4,1069.3 L1389.9,1069.2 L1392.4,1069.1 L1394.9,1069.0 L1397.4,1068.9 L1399.9,1068.8 L1402.4,1068.7 L1404.9,1068.6 L1407.4,1068.5 L1409.9,1068.4 L1412.4,1068.3 L1414.9,1068.3 L1417.4,1068.2 L1419.9,1068.1 L1422.4,1068.0 L1424.9,1067.9 L1427.4,1067.9 L1429.9,1067.8 L1432.4,1067.7 L1434.9,1067.7 L1437.4,1067.6 L1439.9,1067.5 L1442.4,1067.5 L1445.0,1067.4 L1447.5,1067.4 L1450.0,1067.3 L1452.5,1067.2 L1455.0,1067.2 L1457.5,1067.1 L1460.0,1067.1 L1462.5,1067.0 L1465.0,1067.0 L1467.5,1066.9 L1470.0,1066.9 L1472.5,1066.9 L1475.0,1066.8 L1477.5,1066.8 L1480.0,1066.8 L1482.5,1066.7 L1485.0,1066.7 L1487.5,1066.7 L1490.0,1066.6 L1492.5,1066.6 L1495.0,1066.6 L1497.5,1066.5 L1500.0,1066.5 L1502.5,1066.5 L1505.0,1066.5 L1507.5,1066.5 L1510.0,1066.5 L1512.5,1066.4 L1515.0,1066.4 L1517.5,1066.4 L1520.0,1066.4 L1522.5,1066.4 L1525.0,1066.4 L1527.5,1066.4 L1530.0,1066.4 L1532.5,1066.4 L1535.0,1066.4 L1537.5,1066.4 L1540.0,1066.4 L1542.5,1066.4 L1545.0,1066.4 L1547.5,1066.4 L1550.0,1066.4 L1552.5,1066.4 L1555.1,1066.4 L1557.6,1066.4 L1560.1,1066.5 L1562.6,1066.5 L1565.1,1066.5 L1567.6,1066.5 L1570.1,1066.5 L1572.6,1066.6 L1575.1,1066.6 L1577.6,1066.6 L1580.1,1066.6 L1582.6,1066.7 L1585.1,1066.7 L1587.6,1066.7 L1590.1,1066.7 L1592.6,1066.8 L1595.1,1066.8 L1597.6,1066.9 L1600.1,1066.9 L1602.6,1066.9 L1605.1,1067.0 L1607.6,1067.0 L1610.1,1067.0 L1612.6,1067.1 L1615.1,1067.1 L1617.6,1067.2 L1620.1,1067.2 L1622.6,1067.3 L1625.1,1067.3 L1627.6,1067.4 L1630.1,1067.4 L1632.7,1067.5 L1635.2,1067.5 L1637.7,1067.6 L1640.2,1067.6 L1642.7,1067.7 L1645.2,1067.8 L1647.7,1067.8 L1650.2,1067.9 L1652.7,1067.9 L1655.2,1068.0 L1657.7,1068.1 L1660.2,1068.1 L1662.7,1068.2 L1665.2,1068.3 L1667.7,1068.3 L1670.2,1068.4 L1672.7,1068.5 L1675.2,1068.6 L1677.7,1068.6 L1680.2,1068.7 L1682.7,1068.8 L1685.2,1068.9 L1687.7,1068.9 L1690.2,1069.0 L1692.7,1069.1 L1695.2,1069.2 L1697.7,1069.3 L1700.2,1069.3 L1702.7,1069.4 L1705.3,1069.5 L1707.8,1069.6 L1710.3,1069.7 L1712.8,1069.8 L1715.3,1069.9 L1717.8,1069.9 L1720.3,1070.0 L1722.8,1070.1 L1725.3,1070.2 L1727.8,1070.2 L1730.3,1070.3 L1732.8,1070.4 L1735.3,1070.4 L1737.8,1070.5 L1740.3,1070.5 L1742.8,1070.6 L1745.3,1070.6 L1747.8,1070.6 L1750.3,1070.6 L1752.8,1070.6 L1755.3,1070.6 L1757.7,1070.6 L1760.2,1070.5 L1762.7,1070.5 L1765.2,1070.4 L1767.7,1070.3 L1770.2,1070.2 L1772.7,1070.1 L1775.2,1070.0 L1777.7,1069.8 L1780.1,1069.7 L1782.6,1069.5 L1785.1,1069.3 L1787.6,1069.0 L1790.1,1068.8 L1792.5,1068.5 L1795.0,1068.3 L1797.5,1068.0 L1800.0,1067.7 L1802.4,1067.3 L1804.9,1067.0 L1807.4,1066.6 L1809.8,1066.3 L1812.3,1065.9 L1814.8,1065.5 L1817.3,1065.2 L1819.8,1064.8 L1822.2,1064.4 L1824.7,1064.1 L1827.2,1063.7 L1829.7,1063.3 L1832.2,1063.0 L1834.7,1062.7 L1837.2,1062.3 L1839.7,1062.0 L1842.2,1061.7 L1844.8,1061.4 L1847.3,1061.0 L1849.8,1060.7 L1852.3,1060.4 L1854.8,1060.1 L1857.3,1059.8 L1859.8,1059.4 L1862.3,1059.1 L1864.9,1058.8 L1867.4,1058.4 L1869.9,1058.0 L1872.3,1057.6 L1874.8,1057.2 L1877.3,1056.8 L1879.8,1056.4 L1882.3,1055.9 L1884.7,1055.5 L1887.2,1055.0 L1889.6,1054.5 L1892.1,1054.0 L1894.5,1053.5 L1896.9,1052.9 L1899.4,1052.3 L1901.8,1051.8 L1904.2,1051.2 L1906.6,1050.5 L1909.0,1049.9 L1911.4,1049.3 L1913.8,1048.6 L1916.2,1047.9 L1918.6,1047.2 L1920.9,1046.5 L1923.3,1045.8 L1925.7,1045.0 L1928.0,1044.2 L1930.4,1043.4 L1932.7,1042.6 L1935.0,1041.8 L1937.3,1041.0 L1939.7,1040.1 L1942.0,1039.2 L1944.3,1038.3 L1946.6,1037.4 L1948.9,1036.5 L1951.2,1035.6 L1953.4,1034.6 L1955.7,1033.6 L1958.0,1032.6 L1960.2,1031.6 L1962.5,1030.6 L1964.7,1029.5 L1967.0,1028.5 L1969.2,1027.4 L1971.4,1026.3 L1973.7,1025.1 L1975.9,1024.0 L1978.1,1022.8 L1980.3,1021.7 L1982.5,1020.5 L1984.7,1019.2 L1986.8,1018.0 L1989.0,1016.8 L1991.2,1015.5 L1993.3,1014.2 L1995.5,1012.9 L1997.6,1011.6 L1999.8,1010.2 L2001.9,1008.9 L2004.0,1007.5 L2006.1,1006.1 L2008.2,1004.7 L2010.3,1003.3 L2012.4,1001.8 L2014.5,1000.3 L2016.6,998.9 L2018.7,997.3 L2020.7,995.8 L2022.8,994.3 L2024.9,992.7 L2026.9,991.1 L2028.9,989.6 L2031.0,988.0 L2033.0,986.4 L2035.0,984.8 L2037.0,983.2 L2039.0,981.7 L2041.0,980.2 L2043.1,978.7 L2045.1,977.3 L2047.1,975.9 L2049.1,974.5 L2051.1,973.2 L2053.2,972.0 L2055.3,970.9 L2057.5,969.9 L2059.7,968.9 L2062.0,968.1 L2064.3,967.4 L2066.7,966.8 L2069.1,966.3 L2071.5,965.9 L2074.0,965.6 L2076.5,965.5 L2079.0,965.5 L2081.5,965.6 L2083.9,965.9 L2086.4,966.3 L2088.7,966.8 L2091.1,967.5 L2093.4,968.3 L2095.7,969.2 L2097.9,970.1 L2100.1,971.1 L2102.3,972.2 L2104.5,973.3 L2106.6,974.5 L2108.8,975.7 L2110.9,977.0 L2113.0,978.3 L2115.2,979.6 L2117.3,981.1 L2119.4,982.5 L2121.5,984.0 L2123.5,985.6 L2125.6,987.2 L2127.6,988.8 L2129.7,990.4 L2131.7,992.1 L2133.7,993.7 L2135.7,995.4 L2137.6,997.1 L2139.6,998.7 L2141.6,1000.4 L2143.5,1002.0 L2145.4,1003.7 L2147.4,1005.3 L2149.3,1006.9 L2151.2,1008.6 L2153.2,1010.2 L2155.1,1011.8 L2157.0,1013.3 L2159.0,1014.9 L2160.9,1016.4 L2162.9,1018.0 L2164.9,1019.5 L2166.8,1021.0 L2168.8,1022.4 L2170.8,1023.9 L2172.9,1025.3 L2174.9,1026.7 L2176.9,1028.1 L2179.0,1029.5 L2181.1,1030.8 L2183.2,1032.2 L2185.3,1033.5 L2187.4,1034.7 L2189.5,1036.0 L2191.7,1037.2 L2193.8,1038.4 L2196.0,1039.6 L2198.2,1040.7 L2200.4,1041.9 L2202.6,1043.0 L2204.9,1044.0 L2207.1,1045.1 L2209.3,1046.1 L2211.6,1047.1 L2213.9,1048.1 L2216.2,1049.0 L2218.5,1049.9 L2220.8,1050.8 L2223.1,1051.7 L2225.4,1052.5 L2227.8,1053.3 L2230.2,1054.1 L2232.5,1054.8 L2234.9,1055.6 L2237.3,1056.2 L2239.7,1056.9 L2242.1,1057.5 L2244.6,1058.1 L2247.0,1058.7 L2249.4,1059.2 L2251.9,1059.7 L2254.4,1060.2 L2256.8,1060.7 L2259.3,1061.1 L2261.8,1061.5 L2264.3,1061.9 L2266.8,1062.3 L2269.3,1062.6 L2271.8,1062.9 L2274.3,1063.2 L2276.8,1063.5 L2279.3,1063.8 L2281.8,1064.1 L2284.4,1064.3 L2286.9,1064.6 L2289.4,1064.8 L2291.9,1065.0 L2294.4,1065.3 L2296.9,1065.5 L2299.4,1065.7 L2301.9,1065.9 L2304.5,1066.1 L2306.9,1066.3 L2309.4,1066.5 L2311.9,1066.7 L2314.4,1066.9 L2316.9,1067.1 L2319.3,1067.3 L2321.8,1067.6 L2324.3,1067.8 L2326.7,1068.0" stroke="#f8f830"/>
<path d="M1035.0,133.5 L1037.5,133.9 L1040.0,134.2 L1042.4,134.6 L1044.9,134.9 L1047.4,135.3 L1049.9,135.6 L1052.3,136.0 L1054.8,136.3 L1057.3,136.7 L1059.8,137.0 L1062.3,137.4 L1064.7,137.7 L1067.2,138.0 L1069.7,138.3 L1072.2,138.7 L1074.7,139.0 L1077.1,139.3 L1079.6,139.6 L1082.1,139.9 L1084.6,140.2 L1087.1,140.5 L1089.5,140.8 L1092.0,141.1 L1094.5,141.4 L1097.0,141.7 L1099.5,142.0 L1102.0,142.3 L1104.4,142.6 L1106.9,142.9 L1109.4,143.2 L1111.9,143.5 L1114.4,143.8 L1116.9,144.1 L1119.4,144.3 L1121.8,144.6 L1124.3,144.9 L1126.8,145.2 L1129.3,145.5 L1131.8,145.7 L1134.3,146.0 L1136.8,146.3 L1139.2,146.6 L1141.7,146.8 L1144.2,147.1 L1146.7,147.4 L1149.2,147.6 L1151.7,147.9 L1154.2,148.2 L1156.6,148.5 L1159.1,148.7 L1161.6,149.0 L1164.1,149.3 L1166.6,149.5 L1169.1,149.8 L1171.6,150.1 L1174.0,150.3 L1176.5,150.6 L1179.0,150.9 L1181.5,151.1 L1184.0,151.4 L1186.5,151.7 L1189.0,151.9 L1191.4,152.2 L1193.9,152.5 L1196.4,152.7 L1198.9,153.0 L1201.4,153.3 L1203.9,153.6 L1206.4,153.8 L1208.8,154.1 L1211.3,154.4 L1213.8,154.7 L1216.3,155.0 L1218.8,155.2 L1221.3,155.5 L1223.8,155.8 L1226.2,156.1 L1228.7,156.4 L1231.2,156.7 L1233.7,157.0 L1236.2,157.2 L1238.6,157.5 L1241.1,157.8 L1243.6,158.1 L1246.1,158.4 L1248.6,158.7 L1251.1,159.0 L1253.5,159.3 L1256.0,159.7 L1258.5,160.0 L1261.0,160.3 L1263.5,160.6 L1265.9,160.9 L1268.4,161.2 L1270.9,161.6 L1273.4,161.9 L1275.8,162.2 L1278.3,162.6 L1280.8,162.9 L1283.3,163.2 L1285.7,163.6 L1288.2,163.9 L1290.7,164.3 L1293.2,164.6 L1295.6,165.0 L1298.1,165.3 L1300.6,165.7 L1303.1,166.1 L1305.5,166.5 L1308.0,166.8 L1310.5,167.2 L1312.9,167.6 L1315.4,168.0 L1317.9,168.4 L1320.4,168.8 L1322.8,169.2 L1325.3,169.6 L1327.8,170.0 L1330.2,170.4 L1332.7,170.8 L1335.2,171.2 L1337.6,171.7 L1340.1,172.1 L1342.6,172.5 L1345.0,173.0 L1347.5,173.4 L1349.9,173.9 L1352.4,174.3 L1354.9,174.8 L1357.3,175.3 L1359.8,175.7 L1362.2,176.2 L1364.7,176.7 L1367.1,177.2 L1369.6,177.7 L1372.1,178.2 L1374.5,178.7 L1377.0,179.2 L1379.4,179.7 L1381.9,180.2 L1384.3,180.7 L1386.8,181.2 L1389.2,181.7 L1391.7,182.2 L1394.2,182.7 L1396.6,183.2 L1399.1,183.7 L1401.5,184.3 L1404.0,184.8 L1406.4,185.3 L1408.9,185.8 L1411.3,186.3 L1413.8,186.8 L1416.2,187.3 L1418.7,187.9 L1421.1,188.4 L1423.6,188.9 L1426.0,189.4 L1428.5,189.9 L1430.9,190.4 L1433.4,190.9 L1435.9,191.4 L1438.3,191.8 L1440.8,192.3 L1443.2,192.8 L1445.7,193.3 L1448.1,193.8 L1450.6,194.2 L1453.1,194.7 L1455.5,195.1 L1458.0,195.6 L1460.4,196.0 L1462.9,196.5 L1465.3,196.9 L1467.8,197.3 L1470.3,197.7 L1472.7,198.1 L1475.2,198.5 L1477.7,198.9 L1480.1,199.3 L1482.6,199.7 L1485.1,200.0 L1487.5,200.4 L1490.0,200.7 L1492.5,201.1 L1494.9,201.4 L1497.4,201.7 L1499.9,202.0 L1502.4,202.3 L1504.8,202.6 L1507.3,202.9 L1509.8,203.1 L1512.3,203.4 L1514.8,203.6 L1517.2,203.9 L1519.7,204.1 L1522.2,204.3 L1524.7,204.5 L1527.2,204.7 L1529.7,204.8 L1532.2,205.0 L1534.6,205.1 L1537.1,205.3 L1539.6,205.4 L1542.1,205.5 L1544.6,205.6 L1547.1,205.7 L1549.6,205.8 L1552.1,205.8 L1554.6,205.9 L1557.1,206.0 L1559.6,206.0 L1562.1,206.0 L1564.6,206.1 L1567.1,206.1 L1569.6,206.1 L1572.1,206.1 L1574.6,206.0 L1577.1,206.0 L1579.6,206.0 L1582.1,205.9 L1584.6,205.9 L1587.1,205.8 L1589.6,205.8 L1592.1,205.7 L1594.6,205.6 L1597.1,205.5 L1599.6,205.4 L1602.1,205.3 L1604.6,205.2 L1607.1,205.0 L1609.6,204.9 L1612.1,204.8 L1614.6,204.6 L1617.1,204.5 L1619.7,204.3 L1622.2,204.1 L1624.7,203.9 L1627.2,203.8 L1629.7,203.6 L1632.2,203.4 L1634.7,203.2 L1637.2,202.9 L1639.7,202.7 L1642.2,202.5 L1644.7,202.3 L1647.2,202.0 L1649.7,201.8 L1652.2,201.5 L1654.7,201.3 L1657.2,201.0 L1659.7,200.8 L1662.2,200.5 L1664.7,200.2 L1667.1,199.9 L1669.6,199.6 L1672.1,199.3 L1674.6,199.1 L1677.1,198.8 L1679.6,198.4 L1682.1,198.1 L1684.6,197.8 L1687.1,197.5 L1689.6,197.2 L1692.0,196.9 L1694.5,196.6 L1697.0,196.3 L1699.5,196.0 L1702.0,195.7 L1704.5,195.4 L1707.0,195.1 L1709.4,194.8 L1711.9,194.6 L1714.4,194.3 L1716.9,194.0 L1719.4,193.8 L1721.8,193.6 L1724.3,193.3 L1726.8,193.1 L1729.3,192.9 L1731.8,192.8 L1734.3,192.6 L1736.7,192.4 L1739.2,192.3 L1741.7,192.2 L1744.2,192.0 L1746.7,191.9 L1749.2,191.7 L1751.7,191.6 L1754.2,191.5 L1756.6,191.4 L1759.1,191.3 L1761.6,191.2 L1764.1,191.2 L1766.6,191.2 L1769.1,191.3 L1771.6,191.4 L1774.1,191.6 L1776.6,191.8 L1779.1,192.2 L1781.5,192.7 L1783.9,193.2 L1786.3,193.9 L1788.7,194.5 L1791.1,195.3 L1793.5,196.0 L1795.8,196.9 L1798.2,197.7 L1800.5,198.6 L1802.8,199.5 L1805.1,200.5 L1807.5,201.5 L1809.8,202.6 L1812.0,203.6 L1814.3,204.8 L1816.6,206.0 L1818.8,207.2 L1821.0,208.5 L1823.2,209.8 L1825.4,211.1 L1827.6,212.5 L1829.7,213.9 L1831.8,215.3 L1833.9,216.7 L1836.0,218.1 L1838.0,219.6 L1840.1,221.1 L1842.1,222.6 L1844.0,224.1 L1846.0,225.7 L1847.9,227.2 L1849.9,228.8 L1851.8,230.4 L1853.6,232.0 L1855.5,233.7 L1857.3,235.3 L1859.1,237.0 L1860.9,238.7 L1862.7,240.4 L1864.4,242.1 L1866.2,243.9 L1867.9,245.6 L1869.6,247.4 L1871.2,249.2 L1872.9,251.0 L1874.5,252.9 L1876.1,254.7 L1877.7,256.6 L1879.3,258.5 L1880.8,260.4 L1882.3,262.3 L1883.8,264.3 L1885.3,266.2 L1886.8,268.2 L1888.2,270.2 L1889.7,272.2 L1891.1,274.3 L1892.5,276.3 L1893.8,278.4 L1895.2,280.5 L1896.5,282.6 L1897.9,284.7 L1899.2,286.8 L1900.4,289.0 L1901.7,291.1 L1903.0,293.3 L1904.2,295.5 L1905.4,297.6 L1906.6,299.8 L1907.8,302.1 L1909.0,304.3 L1910.2,306.5 L1911.3,308.7 L1912.5,311.0 L1913.6,313.2 L1914.7,315.5 L1915.8,317.8 L1916.9,320.1 L1918.0,322.3 L1919.1,324.6 L1920.1,326.9 L1921.2,329.2 L1922.2,331.5 L1923.2,333.8 L1924.3,336.1 L1925.3,338.4 L1926.3,340.8 L1927.3,343.1 L1928.3,345.4 L1929.2,347.7 L1930.2,350.0 L1931.2,352.4 L1932.1,354.7 L1933.1,357.0 L1934.0,359.3 L1934.9,361.7 L1935.9,364.0 L1936.8,366.4 L1937.7,368.7 L1938.6,371.0 L1939.5,373.4 L1940.3,375.7 L1941.2,378.1 L1942.1,380.4 L1943.0,382.8 L1943.8,385.1 L1944.7,387.5 L1945.5,389.8 L1946.3,392.2 L1947.2,394.6 L1948.0,396.9 L1948.8,399.3 L1949.6,401.6 L1950.4,404.0 L1951.2,406.4 L1952.0,408.8 L1952.7,411.1 L1953.5,413.5 L1954.3,415.9 L1955.0,418.3 L1955.8,420.6 L1956.5,423.0 L1957.3,425.4 L1958.0,427.8 L1958.8,430.2 L1959.5,432.6 L1960.2,435.0 L1960.9,437.4 L1961.6,439.7 L1962.3,442.1 L1963.0,444.5 L1963.7,446.9 L1964.4,449.3 L1965.1,451.7 L1965.7,454.1 L1966.4,456.5 L1967.1,458.9 L1967.7,461.4 L1968.4,463.8 L1969.0,466.2 L1969.6,468.6 L1970.3,471.0 L1970.9,473.4 L1971.5,475.8 L1972.2,478.2 L1972.8,480.7 L1973.4,483.1 L1974.0,485.5 L1974.6,487.9 L1975.2,490.3 L1975.8,492.8 L1976.4,495.2 L1977.0,497.6 L1977.6,500.0 L1978.1,502.5 L1978.7,504.9 L1979.3,507.3 L1979.9,509.8 L1980.4,512.2 L1981.0,514.6 L1981.5,517.0 L1982.1,519.5 L1982.6,521.9 L1983.2,524.4 L1983.7,526.8 L1984.3,529.2 L1984.8,531.7 L1985.3,534.1 L1985.8,536.6 L1986.4,539.0 L1986.9,541.4 L1987.4,543.9 L1987.9,546.3 L1988.4,548.8 L1989.0,551.2 L1989.5,553.7 L1990.0,556.1 L1990.5,558.6 L1991.0,561.0 L1991.5,563.5 L1992.0,565.9 L1992.5,568.4 L1992.9,570.8 L1993.4,573.3 L1993.9,575.7 L1994.4,578.2 L1994.9,580.6 L1995.4,583.1 L1995.9,585.5 L1996.3,588.0 L1996.8,590.4 L1997.3,592.9 L1997.7,595.4 L1998.2,597.8 L1998.7,600.3 L1999.2,602.7 L1999.6,605.2 L2000.1,607.6 L2000.6,610.1 L2001.0,612.6 L2001.5,615.0 L2001.9,617.5 L2002.4,619.9 L2002.9,622.4 L2003.3,624.9 L2003.8,627.3 L2004.2,629.8 L2004.7,632.2 L2005.1,634.7 L2005.6,637.2 L2006.0,639.6 L2006.5,642.1 L2007.0,644.5 L2007.4,647.0 L2007.9,649.5 L2008.3,651.9 L2008.8,654.4 L2009.2,656.9 L2009.7,659.3 L2010.1,661.8 L2010.6,664.2 L2011.0,666.7 L2011.5,669.2 L2011.9,671.6 L2012.4,674.1 L2012.8,676.5 L2013.3,679.0 L2013.7,681.5 L2014.2,683.9 L2014.6,686.4 L2015.1,688.9 L2015.5,691.3 L2016.0,693.8 L2016.4,696.3 L2016.8,698.7 L2017.3,701.2 L2017.7,703.6 L2018.2,706.1 L2018.6,708.6 L2019.0,711.0 L2019.5,713.5 L2019.9,716.0 L2020.3,718.4 L2020.8,720.9 L2021.2,723.3 L2021.6,725.8 L2022.1,728.3 L2022.5,730.7 L2022.9,733.2 L2023.4,735.7 L2023.8,738.1 L2024.2,740.6 L2024.6,743.1 L2025.0,745.5 L2025.5,748.0 L2025.9,750.5 L2026.3,752.9 L2026.7,755.4 L2027.1,757.8 L2027.5,760.3 L2028.0,762.8 L2028.4,765.2 L2028.8,767.7 L2029.2,770.2 L2029.6,772.6 L2030.0,775.1 L2030.4,777.6 L2030.8,780.0 L2031.2,782.5 L2031.6,785.0 L2032.0,787.4 L2032.3,789.9 L2032.7,792.4 L2033.1,794.8 L2033.5,797.3 L2033.9,799.8 L2034.3,802.2 L2034.6,804.7 L2035.0,807.2 L2035.4,809.6 L2035.8,812.1 L2036.1,814.6 L2036.5,817.0 L2036.9,819.5 L2037.2,822.0 L2037.6,824.4 L2038.0,826.9 L2038.3,829.4 L2038.7,831.8 L2039.1,834.3 L2039.4,836.8 L2039.8,839.2 L2040.2,841.7 L2040.5,844.2 L2040.9,846.6 L2041.3,849.1 L2041.6,851.6 L2042.0,854.1 L2042.4,856.5 L2042.8,859.0 L2043.1,861.5 L2043.5,864.0 L2043.9,866.4 L2044.3,868.9 L2044.7,871.4 L2045.1,873.9 L2045.5,876.3 L2045.9,878.8 L2046.3,881.3 L2046.7,883.8 L2047.1,886.2 L2047.5,888.7 L2048.0,891.2 L2048.4,893.7 L2048.8,896.2 L2049.2,898.6 L2049.7,901.1 L2050.1,903.6 L2050.6,906.1 L2051.0,908.6 L2051.4,911.0 L2051.9,913.5 L2052.3,916.0 L2052.8,918.4 L2053.2,920.9 L2053.7,923.4 L2054.1,925.8 L2054.6,928.3 L2055.0,930.7 L2055.4,933.2 L2055.9,935.6 L2056.3,938.0 L2056.8,940.5 L2057.2,942.9 L2057.6,945.3 L2058.1,947.7 L2058.5,950.1 L2058.9,952.5 L2059.3,954.9 L2059.8,957.3 L2060.2,959.7 L2060.6,962.1 L2061.0,964.5 L2061.4,966.9 L2061.8,969.3 L2062.2,971.7 L2062.7,974.2 L2063.1,976.8 L2063.6,979.4 L2064.1,982.0 L2064.6,984.7 L2065.2,987.4 L2065.8,990.1 L2066.5,992.6 L2067.3,995.1 L2068.1,997.4 L2069.0,999.7 L2069.9,1001.9 L2071.0,1003.9 L2072.1,1005.9 L2073.5,1007.7 L2075.2,1008.9 L2077.1,1009.5 L2079.0,1009.2 L2080.8,1008.1 L2082.4,1006.6 L2083.7,1004.7 L2084.9,1002.7 L2085.9,1000.6 L2086.9,998.4 L2087.8,996.1 L2088.7,993.7 L2089.5,991.1 L2090.4,988.5 L2091.1,985.9 L2091.8,983.2 L2092.5,980.6 L2093.1,978.0 L2093.7,975.5 L2094.3,973.0 L2094.8,970.5 L2095.3,968.0 L2095.8,965.6 L2096.2,963.2 L2096.7,960.8 L2097.1,958.5 L2097.5,956.1 L2097.9,953.7 L2098.3,951.4 L2098.7,949.0 L2099.1,946.6 L2099.5,944.3 L2100.0,941.9 L2100.4,939.4 L2100.8,937.0 L2101.2,934.6 L2101.7,932.2 L2102.1,929.7 L2102.5,927.3 L2103.0,924.8 L2103.4,922.3 L2103.9,919.9 L2104.3,917.4 L2104.7,914.9 L2105.2,912.4 L2105.6,910.0 L2106.0,907.5 L2106.4,905.0 L2106.8,902.5 L2107.3,900.1 L2107.7,897.6 L2108.1,895.1 L2108.5,892.6 L2108.9,890.1 L2109.3,887.7 L2109.7,885.2 L2110.1,882.7 L2110.4,880.2 L2110.8,877.7 L2111.2,875.3 L2111.6,872.8 L2112.0,870.3 L2112.3,867.8 L2112.7,865.3 L2113.1,862.9 L2113.4,860.4 L2113.8,857.9 L2114.2,855.4 L2114.5,852.9 L2114.9,850.5 L2115.2,848.0 L2115.6,845.5 L2115.9,843.0 L2116.3,840.5 L2116.6,838.1 L2117.0,835.6 L2117.3,833.1 L2117.7,830.6 L2118.0,828.1 L2118.3,825.7 L2118.7,823.2 L2119.0,820.7 L2119.3,818.2 L2119.7,815.7 L2120.0,813.3 L2120.3,810.8 L2120.7,808.3 L2121.0,805.8 L2121.3,803.3 L2121.6,800.9 L2122.0,798.4 L2122.3,795.9 L2122.6,793.4 L2122.9,790.9 L2123.3,788.4 L2123.6,786.0 L2123.9,783.5 L2124.2,781.0 L2124.6,778.5 L2124.9,776.0 L2125.2,773.6 L2125.5,771.1 L2125.8,768.6 L2126.2,766.1 L2126.5,763.6 L2126.8,761.2 L2127.1,758.7 L2127.4,756.2 L2127.8,753.7 L2128.1,751.3 L2128.4,748.8 L2128.7,746.3 L2129.1,743.8 L2129.4,741.3 L2129.7,738.9 L2130.0,736.4 L2130.4,733.9 L2130.7,731.4 L2131.0,728.9 L2131.4,726.5 L2131.7,724.0 L2132.0,721.5 L2132.3,719.0 L2132.7,716.6 L2133.0,714.1 L2133.3,711.6 L2133.7,709.1 L2134.0,706.7 L2134.3,704.2 L2134.7,701.7 L2135.0,699.2 L2135.4,696.7 L2135.7,694.3 L2136.0,691.8 L2136.4,689.3 L2136.7,686.8 L2137.0,684.4 L2137.4,681.9 L2137.7,679.4 L2138.1,676.9 L2138.4,674.5 L2138.8,672.0 L2139.1,669.5 L2139.5,667.0 L2139.8,664.6 L2140.1,662.1 L2140.5,659.6 L2140.8,657.1 L2141.2,654.7 L2141.5,652.2 L2141.9,649.7 L2142.3,647.3 L2142.6,644.8 L2143.0,642.3 L2143.3,639.8 L2143.7,637.4 L2144.0,634.9 L2144.4,632.4 L2144.7,629.9 L2145.1,627.5 L2145.5,625.0 L2145.8,622.5 L2146.2,620.1 L2146.6,617.6 L2146.9,615.1 L2147.3,612.6 L2147.7,610.2 L2148.0,607.7 L2148.4,605.2 L2148.8,602.8 L2149.1,600.3 L2149.5,597.8 L2149.9,595.3 L2150.2,592.9 L2150.6,590.4 L2151.0,587.9 L2151.4,585.5 L2151.7,583.0 L2152.1,580.5 L2152.5,578.0 L2152.9,575.6 L2153.3,573.1 L2153.6,570.6 L2154.0,568.2 L2154.4,565.7 L2154.8,563.2 L2155.2,560.8 L2155.6,558.3 L2156.0,555.8 L2156.4,553.4 L2156.7,550.9 L2157.1,548.4 L2157.5,545.9 L2157.9,543.5 L2158.3,541.0 L2158.7,538.5 L2159.1,536.1 L2159.5,533.6 L2159.9,531.1 L2160.3,528.7 L2160.7,526.2 L2161.1,523.7 L2161.5,521.3 L2161.9,518.8 L2162.3,516.3 L2162.7,513.9 L2163.2,511.4 L2163.6,508.9 L2164.0,506.5 L2164.4,504.0 L2164.8,501.5 L2165.2,499.1 L2165.6,496.6 L2166.1,494.1 L2166.5,491.7 L2166.9,489.2 L2167.3,486.7 L2167.7,484.3 L2168.2,481.8 L2168.6,479.3 L2169.0,476.9 L2169.4,474.4 L2169.9,471.9 L2170.3,469.5 L2170.7,467.0 L2171.2,464.6 L2171.6,462.1 L2172.0,459.6 L2172.5,457.2 L2172.9,454.7 L2173.4,452.2 L2173.8,449.8 L2174.3,447.3 L2174.7,444.8 L2175.1,442.4 L2175.6,439.9 L2176.0,437.4 L2176.5,435.0 L2176.9,432.5 L2177.4,430.1 L2177.9,427.6 L2178.3,425.1 L2178.8,422.7 L2179.2,420.2 L2179.7,417.7 L2180.2,415.3 L2180.6,412.8 L2181.1,410.4 L2181.6,407.9 L2182.1,405.5 L2182.6,403.0 L2183.0,400.5 L2183.5,398.1 L2184.0,395.6 L2184.5,393.2 L2185.1,390.7 L2185.6,388.3 L2186.1,385.8 L2186.6,383.4 L2187.1,380.9 L2187.7,378.5 L2188.2,376.1 L2188.8,373.6 L2189.3,371.2 L2189.9,368.7 L2190.5,366.3 L2191.0,363.9 L2191.6,361.4 L2192.2,359.0 L2192.8,356.6 L2193.4,354.2 L2194.0,351.7 L2194.7,349.3 L2195.3,346.9 L2195.9,344.5 L2196.6,342.1 L2197.2,339.7 L2197.9,337.3 L2198.6,334.8 L2199.3,332.4 L2200.0,330.0 L2200.7,327.7 L2201.4,325.3 L2202.1,322.9 L2202.9,320.5 L2203.6,318.1 L2204.4,315.7 L2205.2,313.3 L2206.0,311.0 L2206.8,308.6 L2207.6,306.2 L2208.4,303.9 L2209.3,301.5 L2210.1,299.2 L2211.0,296.8 L2211.8,294.5 L2212.7,292.1 L2213.6,289.8 L2214.6,287.5 L2215.5,285.1 L2216.4,282.8 L2217.4,280.5 L2218.4,278.2 L2219.4,275.9 L2220.4,273.5 L2221.4,271.2 L2222.4,269.0 L2223.5,266.7 L2224.6,264.4 L2225.7,262.1 L2226.8,259.9 L2227.9,257.6 L2229.0,255.4 L2230.2,253.2 L2231.4,251.0 L2232.6,248.8 L2233.8,246.6 L2235.1,244.4 L2236.3,242.3 L2237.6,240.2 L2238.9,238.1 L2240.3,236.0 L2241.6,233.9 L2243.0,231.8 L2244.4,229.8 L2245.8,227.8 L2247.3,225.8 L2248.7,223.8 L2250.2,221.9 L2251.8,220.0 L2253.3,218.1 L2254.9,216.2 L2256.5,214.4 L2258.1,212.6 L2259.8,210.8 L2261.5,209.0 L2263.2,207.3 L2264.9,205.6 L2266.7,203.9 L2268.5,202.3 L2270.3,200.7 L2272.2,199.1 L2274.0,197.6 L2276.0,196.1 L2277.9,194.6 L2279.9,193.2 L2281.9,191.8 L2284.0,190.5 L2286.0,189.1 L2288.1,187.9 L2290.3,186.6 L2292.5,185.4 L2294.7,184.3 L2296.9,183.2 L2299.2,182.1 L2301.5,181.1 L2303.9,180.1 L2306.3,179.2 L2308.7,178.3 L2311.2,177.4 L2313.7,176.6 L2316.2,175.9 L2318.8,175.2 L2321.4,174.5 L2324.1,173.9 L2326.7,173.3" stroke="#24dc28"/>
<path d="M1035.0,1086.4 L1039.0,1086.4 L1043.0,1086.4 L1047.0,1086.4 L1051.0,1086.4 L1055.0,1086.4 L1059.0,1086.4 L1063.0,1086.4 L1067.0,1086.4 L1071.0,1086.4 L1075.1,1086.4 L1079.1,1086.4 L1083.1,1086.4 L1087.1,1086.4 L1091.1,1086.4 L1095.1,1086.4 L1099.1,1086.4 L1103.1,1086.4 L1107.1,1086.4 L1111.1,1086.4 L1115.1,1086.4 L1119.1,1086.4 L1123.1,1086.4 L1127.1,1086.4 L1131.1,1086.4 L1135.1,1086.4 L1139.1,1086.4 L1143.1,1086.4 L1147.1,1086.4 L1151.1,1086.4 L1155.2,1086.4 L1159.2,1086.4 L1163.2,1086.4 L1167.2,1086.4 L1171.2,1086.4 L1175.2,1086.4 L1179.2,1086.4 L1183.2,1086.4 L1187.2,1086.4 L1191.2,1086.4 L1195.2,1086.4 L1199.2,1086.4 L1203.2,1086.4 L1207.2,1086.4 L1211.2,1086.4 L1215.2,1086.4 L1219.2,1086.4 L1223.2,1086.4 L1227.2,1086.4 L1231.2,1086.4 L1235.3,1086.4 L1239.3,1086.4 L1243.3,1086.4 L1247.3,1086.4 L1251.3,1086.4 L1255.3,1086.4 L1259.3,1086.4 L1263.3,1086.4 L1267.3,1086.4 L1271.3,1086.4 L1275.3,1086.4 L1279.3,1086.4 L1283.3,1086.4 L1287.3,1086.4 L1291.3,1086.4 L1295.3,1086.4 L1299.3,1086.4 L1303.3,1086.4 L1307.3,1086.4 L1311.4,1086.4 L1315.4,1086.4 L1319.4,1086.4 L1323.4,1086.4 L1327.4,1086.4 L1331.4,1086.4 L1335.4,1086.4 L1339.4,1086.4 L1343.4,1086.4 L1347.4,1086.4 L1351.4,1086.4 L1355.4,1086.4 L1359.4,1086.4 L1363.4,1086.4 L1367.4,1086.4 L1371.4,1086.4 L1375.4,1086.4 L1379.4,1086.4 L1383.4,1086.4 L1387.4,1086.4 L1391.5,1086.4 L1395.5,1086.4 L1399.5,1086.4 L1403.5,1086.4 L1407.5,1086.4 L1411.5,1086.4 L1415.5,1086.4 L1419.5,1086.4 L1423.5,1086.4 L1427.5,1086.4 L1431.5,1086.4 L1435.5,1086.4 L1439.5,1086.4 L1443.5,1086.4 L1447.5,1086.4 L1451.5,1086.4 L1455.5,1086.4 L1459.5,1086.4 L1463.5,1086.4 L1467.6,1086.4 L1471.6,1086.4 L1475.6,1086.4 L1479.6,1086.4 L1483.6,1086.4 L1487.6,1086.4 L1491.6,1086.4 L1495.6,1086.4 L1499.6,1086.4 L1503.6,1086.4 L1507.6,1086.4 L1511.6,1086.4 L1515.6,1086.4 L1519.6,1086.4 L1523.6,1086.4 L1527.6,1086.4 L1531.6,1086.4 L1535.6,1086.4 L1539.6,1086.4 L1543.6,1086.4 L1547.7,1086.4 L1551.7,1086.4 L1555.7,1086.4 L1559.7,1086.4 L1563.7,1086.4 L1567.7,1086.4 L1571.7,1086.4 L1575.7,1086.4 L1579.7,1086.4 L1583.7,1086.4 L1587.7,1086.4 L1591.7,1086.4 L1595.7,1086.4 L1599.7,1086.4 L1603.7,1086.4 L1607.7,1086.4 L1611.7,1086.4 L1615.7,1086.4 L1619.7,1086.4 L1623.7,1086.4 L1627.8,1086.4 L1631.8,1086.4 L1635.8,1086.4 L1639.8,1086.4 L1643.8,1086.4 L1647.8,1086.4 L1651.8,1086.4 L1655.8,1086.4 L1659.8,1086.4 L1663.8,1086.4 L1667.8,1086.4 L1671.8,1086.4 L1675.8,1086.4 L1679.8,1086.4 L1683.8,1086.4 L1687.8,1086.4 L1691.8,1086.4 L1695.8,1086.4 L1699.8,1086.4 L1703.9,1086.4 L1707.9,1086.4 L1711.9,1086.4 L1715.9,1086.4 L1719.9,1086.4 L1723.9,1086.4 L1727.9,1086.4 L1731.9,1086.4 L1735.9,1086.4 L1739.9,1086.4 L1743.9,1086.4 L1747.9,1086.4 L1751.9,1086.4 L1755.9,1086.4 L1759.9,1086.4 L1763.9,1086.4 L1767.9,1086.4 L1771.9,1086.4 L1775.9,1086.4 L1779.9,1086.4 L1784.0,1086.4 L1788.0,1086.4 L1792.0,1086.4 L1796.0,1086.4 L1800.0,1086.4 L1804.0,1086.4 L1808.0,1086.4 L1812.0,1086.4 L1816.0,1086.3 L1820.0,1086.3 L1824.0,1086.3 L1828.0,1086.2 L1832.0,1086.2 L1836.0,1086.2 L1840.0,1086.1 L1844.0,1086.1 L1848.0,1086.0 L1852.0,1086.0 L1856.0,1085.9 L1860.0,1085.9 L1864.1,1085.8 L1868.1,1085.7 L1872.1,1085.6 L1876.1,1085.5 L1880.1,1085.4 L1884.1,1085.3 L1888.1,1085.2 L1892.1,1085.1 L1896.1,1084.9 L1900.1,1084.8 L1904.1,1084.6 L1908.1,1084.5 L1912.1,1084.3 L1916.1,1084.0 L1920.1,1083.8 L1924.1,1083.6 L1928.1,1083.3 L1932.1,1083.0 L1936.1,1082.7 L1940.1,1082.4 L1944.1,1082.1 L1948.0,1081.8 L1952.0,1081.4 L1956.0,1081.1 L1960.0,1080.7 L1964.0,1080.3 L1968.0,1080.0 L1972.0,1079.6 L1976.0,1079.2 L1979.9,1078.8 L1983.9,1078.4 L1987.9,1078.0 L1991.9,1077.5 L1995.9,1077.1 L1999.9,1076.7 L2003.8,1076.3 L2007.8,1075.8 L2011.8,1075.4 L2015.8,1075.0 L2019.8,1074.5 L2023.8,1074.1 L2027.7,1073.6 L2031.7,1073.2 L2035.7,1072.8 L2039.7,1072.3 L2043.7,1071.9 L2047.6,1071.5 L2051.6,1071.0 L2055.6,1070.6 L2059.6,1070.2 L2063.6,1069.8 L2067.6,1069.6 L2071.6,1069.9 L2075.6,1070.2 L2079.5,1070.5 L2083.5,1070.8 L2087.5,1071.0 L2091.5,1071.3 L2095.5,1071.6 L2099.5,1072.0 L2103.5,1072.3 L2107.5,1072.7 L2111.5,1073.1 L2115.5,1073.5 L2119.5,1073.9 L2123.4,1074.4 L2127.4,1074.8 L2131.4,1075.3 L2135.4,1075.8 L2139.3,1076.2 L2143.3,1076.7 L2147.3,1077.2 L2151.3,1077.6 L2155.3,1078.1 L2159.2,1078.6 L2163.2,1079.0 L2167.2,1079.5 L2171.2,1079.9 L2175.1,1080.4 L2179.1,1080.8 L2183.1,1081.3 L2187.1,1081.8 L2191.1,1082.3 L2195.0,1082.8 L2199.0,1083.4 L2202.9,1084.0 L2206.9,1084.6 L2210.9,1085.1 L2214.9,1085.4 L2218.9,1085.6 L2222.9,1085.8 L2226.9,1085.9 L2230.9,1086.0 L2234.9,1086.1 L2238.9,1086.2 L2242.9,1086.3 L2246.9,1086.3 L2250.9,1086.4 L2254.9,1086.4 L2258.9,1086.4 L2262.9,1086.4 L2266.9,1086.4 L2270.9,1086.4 L2274.9,1086.4 L2278.9,1086.4 L2282.9,1086.4 L2286.9,1086.4 L2291.0,1086.4 L2295.0,1086.4 L2299.0,1086.4 L2303.0,1086.4 L2307.0,1086.4 L2311.0,1086.4 L2315.0,1086.4 L2319.0,1086.4 L2323.0,1086.4 L2327.0,1086.4" stroke="#1208c4"/>
</g>
<line x1="1091.5" y1="552.9" x2="1205.5" y2="552.9" stroke="#d0141e" stroke-width="10" stroke-linecap="round"/>
<text x="1220" y="571.2" font-size="51" style="fill:#1c1c1c">Loss in graphene</text>
<line x1="1091.5" y1="615.8" x2="1205.5" y2="615.8" stroke="#f4f43c" stroke-width="10" stroke-linecap="round"/>
<text x="1220" y="634.7" font-size="51" style="fill:#1c1c1c">Loss in gold</text>
<line x1="1091.5" y1="678.8" x2="1205.5" y2="678.8" stroke="#28dc2c" stroke-width="10" stroke-linecap="round"/>
<text x="1220" y="696.4" font-size="51" style="fill:#1c1c1c">Reflection</text>
<line x1="1091.5" y1="741.7" x2="1205.5" y2="741.7" stroke="#1208be" stroke-width="10" stroke-linecap="round"/>
<text x="1220" y="759.3" font-size="51" style="fill:#1c1c1c">Transmission</text>
<text x="1410" y="1268.6" font-size="78.2">Frequency (THz)</text>
<text transform="translate(861.7 834.5) rotate(-90)" font-size="76.6">Energy Partition</text>
<text x="1659.5" y="1381.4" font-size="66.2">(b)</text>
</g>
</g>
</svg>
</body></html>
